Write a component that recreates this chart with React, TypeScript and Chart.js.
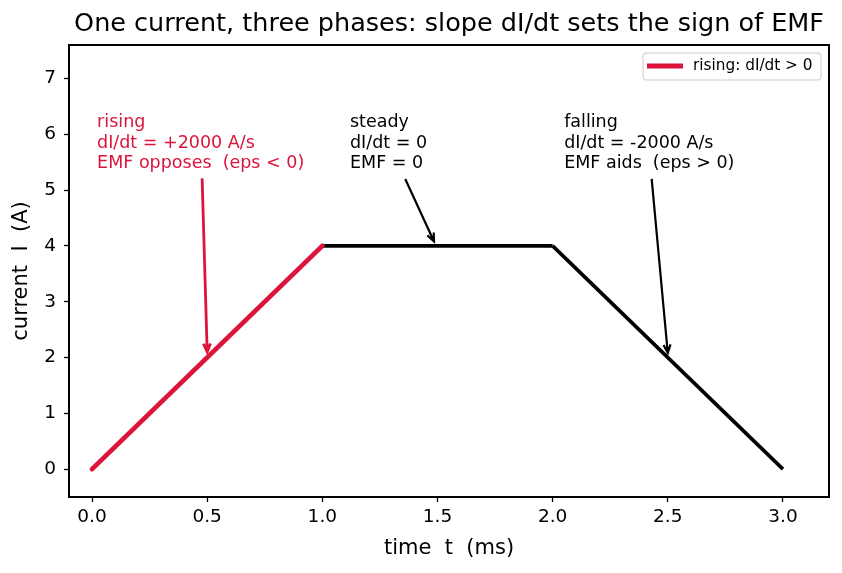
import React, { useEffect, useRef } from "react";
import { Chart, registerables } from "chart.js";
Chart.register(...registerables);

const risingT = [0, 1];
const risingI = [0, 4];
const steadyT = [1, 2];
const steadyI = [4, 4];
const fallingT = [2, 3];
const fallingI = [4, 0];

const xTicks = [0, 0.5, 1, 1.5, 2, 2.5, 3];
const yTicks = [0, 1, 2, 3, 4, 5, 6, 7];

const noteLines = [
  ["rising", "dI/dt = +2000 A/s", "EMF opposes  (eps < 0)"],
  ["steady", "dI/dt = 0", "EMF = 0"],
  ["falling", "dI/dt = -2000 A/s", "EMF aids  (eps > 0)"],
];
const noteTextX = [0.022, 1.12, 2.05];
const noteTextY = [5.47, 5.47, 5.47];
const arrowFromX = [0.478, 1.36, 2.43];
const arrowFromY = [5.21, 5.2, 5.2];
const arrowToX = [0.5, 1.485, 2.5];
const arrowToY = [2.1, 4.08, 2.08];
const noteColors = ["#DC143C", "#000000", "#000000"];

const TITLE = "One current, three phases: slope dI/dt sets the sign of EMF";
const FONT = "'DejaVu Sans', sans-serif";

const pts = (t: number[], v: number[]) => t.map((x, i) => ({ x, y: v[i] }));

const overlay = {
  id: "overlay",
  afterDraw(chart: any) {
    const ctx = chart.ctx as CanvasRenderingContext2D;
    const a = chart.chartArea;
    const xs = chart.scales.x;
    const ys = chart.scales.y;
    ctx.save();
    // frame
    ctx.strokeStyle = "#000";
    ctx.lineWidth = 2;
    ctx.strokeRect(a.left, a.top, a.right - a.left, a.bottom - a.top);
    // title
    ctx.fillStyle = "#000";
    ctx.font = `25.5px ${FONT}`;
    ctx.textAlign = "center";
    ctx.textBaseline = "middle";
    ctx.fillText(TITLE, (a.left + a.right) / 2, 24);
    // axis titles
    ctx.font = `21px ${FONT}`;
    ctx.fillText("time  t  (ms)", (a.left + a.right) / 2, 549);
    ctx.save();
    ctx.translate(22, (a.top + a.bottom) / 2);
    ctx.rotate(-Math.PI / 2);
    ctx.fillText("current  I  (A)", 0, 0);
    ctx.restore();
    // annotations
    ctx.font = `17.5px ${FONT}`;
    ctx.textAlign = "left";
    noteLines.forEach((lines, k) => {
      const px = xs.getPixelForValue(noteTextX[k]);
      const py = ys.getPixelForValue(noteTextY[k]);
      ctx.fillStyle = noteColors[k];
      lines.forEach((ln, j) => {
        ctx.fillText(ln, px, py - (lines.length - 1 - j) * 20.5);
      });
      const x1 = xs.getPixelForValue(arrowFromX[k]);
      const y1 = ys.getPixelForValue(arrowFromY[k]);
      const x2 = xs.getPixelForValue(arrowToX[k]);
      const y2 = ys.getPixelForValue(arrowToY[k]);
      ctx.strokeStyle = noteColors[k];
      ctx.lineWidth = k === 0 ? 2.8 : 2.2;
      ctx.beginPath();
      ctx.moveTo(x1, y1);
      ctx.lineTo(x2, y2);
      const ang = Math.atan2(y2 - y1, x2 - x1);
      const hl = 9;
      const ha = 0.4;
      ctx.moveTo(x2 - hl * Math.cos(ang - ha), y2 - hl * Math.sin(ang - ha));
      ctx.lineTo(x2, y2);
      ctx.lineTo(x2 - hl * Math.cos(ang + ha), y2 - hl * Math.sin(ang + ha));
      ctx.stroke();
    });
    // legend
    const ds = chart.data.datasets[0];
    const lx = 643, ly = 53, lw = 178, lh = 27;
    ctx.fillStyle = "rgba(255,255,255,0.8)";
    ctx.strokeStyle = "#cccccc";
    ctx.lineWidth = 1;
    ctx.beginPath();
    (ctx as any).roundRect(lx, ly, lw, lh, 3);
    ctx.fill();
    ctx.stroke();
    ctx.strokeStyle = ds.borderColor;
    ctx.lineWidth = 4.8;
    ctx.beginPath();
    ctx.moveTo(lx + 4, ly + 13);
    ctx.lineTo(lx + 40, ly + 13);
    ctx.stroke();
    ctx.fillStyle = "#000";
    ctx.font = `15.3px ${FONT}`;
    ctx.textBaseline = "middle";
    ctx.fillText(ds.label, lx + 50, ly + 13);
    ctx.restore();
  },
};

export default function App() {
  const ref = useRef<HTMLCanvasElement | null>(null);
  useEffect(() => {
    if (!ref.current) return;
    const chart = new Chart(ref.current, {
      type: "line",
      data: {
        datasets: [
          {
            label: "rising: dI/dt > 0",
            data: pts(risingT, risingI),
            borderColor: "#DC143C",
            borderWidth: 4.8,
            pointRadius: 0,
            borderCapStyle: "round",
          },
          {
            label: "steady",
            data: pts(steadyT, steadyI),
            borderColor: "#000",
            borderWidth: 3.6,
            pointRadius: 0,
          },
          {
            label: "falling",
            data: pts(fallingT, fallingI),
            borderColor: "#000",
            borderWidth: 3.6,
            pointRadius: 0,
          },
        ],
      },
      options: {
        responsive: false,
        animation: false,
        layout: { padding: { left: 0, right: 13, top: 45, bottom: 0 } },
        plugins: {
          legend: { display: false },
          title: { display: false },
          tooltip: { enabled: false },
        },
        scales: {
          x: {
            type: "linear",
            min: -0.1,
            max: 3.2,
            afterFit: (s: any) => {
              s.height = 76;
            },
            afterBuildTicks: (s: any) => {
              s.ticks = xTicks.map((v) => ({ value: v }));
            },
            ticks: {
              color: "#000",
              font: { family: FONT, size: 18.5 },
              padding: 4,
              maxRotation: 0,
              autoSkip: false,
              callback: (v: any) => Number(v).toFixed(1),
            },
            grid: {
              drawOnChartArea: false,
              drawTicks: true,
              tickLength: 5,
              tickWidth: 1.3,
              tickColor: "#000",
            },
            border: { display: false },
          },
          y: {
            type: "linear",
            min: -0.5,
            max: 7.6,
            afterFit: (s: any) => {
              s.width = 69;
            },
            afterBuildTicks: (s: any) => {
              s.ticks = yTicks.map((v) => ({ value: v }));
            },
            ticks: {
              color: "#000",
              font: { family: FONT, size: 18.5 },
              padding: 8,
              autoSkip: false,
              callback: (v: any) => String(v),
            },
            grid: {
              drawOnChartArea: false,
              drawTicks: true,
              tickLength: 5,
              tickWidth: 1.3,
              tickColor: "#000",
            },
            border: { display: false },
          },
        },
      },
      plugins: [overlay],
    });
    return () => chart.destroy();
  }, []);
  return (
    <div style={{ position: "fixed", left: 0, top: 0, width: 842, height: 573, background: "#fff" }}>
      <canvas ref={ref} width={842} height={573} />
    </div>
  );
}
